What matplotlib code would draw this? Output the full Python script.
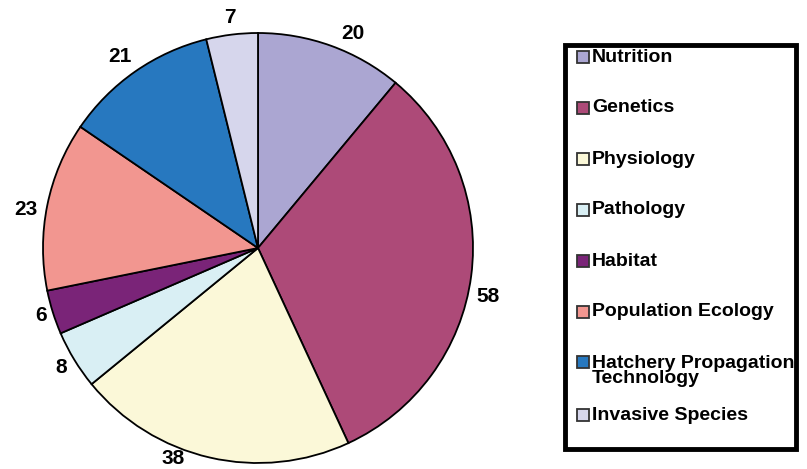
import numpy as np
import matplotlib.pyplot as plt
from matplotlib.patches import Rectangle

categories = ["Nutrition", "Genetics", "Physiology", "Pathology", "Habitat",
              "Population Ecology", "Hatchery Propagation\nTechnology", "Invasive Species"]
counts = [20, 58, 38, 8, 6, 23, 21, 7]
colors = ["#aba6d2", "#ad4a78", "#fbf8d8", "#d9eff4", "#7a2478",
          "#f29690", "#2778bf", "#d6d6ec"]

# label placement tweaks (degrees off the wedge middle, distance in radii)
lab_nudge = [-4, -4.5, -9, 0, 0, 2, 1, 0]
lab_dist = [1.09, 1.095, 1.055, 1.07, 1.055, 1.095, 1.1, 1.08]

plt.rcParams["font.family"] = ["Liberation Sans", "DejaVu Sans"]

fig = plt.figure(figsize=(8.07, 4.69), dpi=100)
ax = fig.add_axes([43 / 807, 6 / 469, 430 / 807, 430 / 469])

wedges, _ = ax.pie(counts, colors=colors, startangle=90, counterclock=False,
                   wedgeprops=dict(edgecolor="black", linewidth=1.3))
for w, c, nd, d in zip(wedges, counts, lab_nudge, lab_dist):
    ang = np.deg2rad((w.theta1 + w.theta2) / 2 + nd)
    ax.text(d * np.cos(ang), d * np.sin(ang), str(c), ha="center", va="center",
            fontsize=15, fontweight="bold")
ax.set_xlim(-1, 1)
ax.set_ylim(-1, 1)
ax.set_aspect("equal")

# legend box drawn by hand so the two-line entry keeps its marker on the first line
fig.patches.append(Rectangle((565 / 807, 20 / 469), 231 / 807, 404 / 469,
                             transform=fig.transFigure, facecolor="white",
                             edgecolor="black", linewidth=3.5))
ys = [57, 108, 159, 210, 261, 312, 362, 415]
for lab, col, y in zip(categories, colors, ys):
    fig.patches.append(Rectangle((577 / 807, (469 - y - 6) / 469), 12 / 807, 12 / 469,
                                 transform=fig.transFigure, facecolor=col,
                                 edgecolor="#333333", linewidth=1.3))
    ty = y + 9 if "\n" in lab else y
    fig.text(592 / 807, (469 - ty) / 469, lab, fontsize=14, fontweight="bold",
             va="center", ha="left", linespacing=0.8)

fig.savefig("out.png", dpi=100)
